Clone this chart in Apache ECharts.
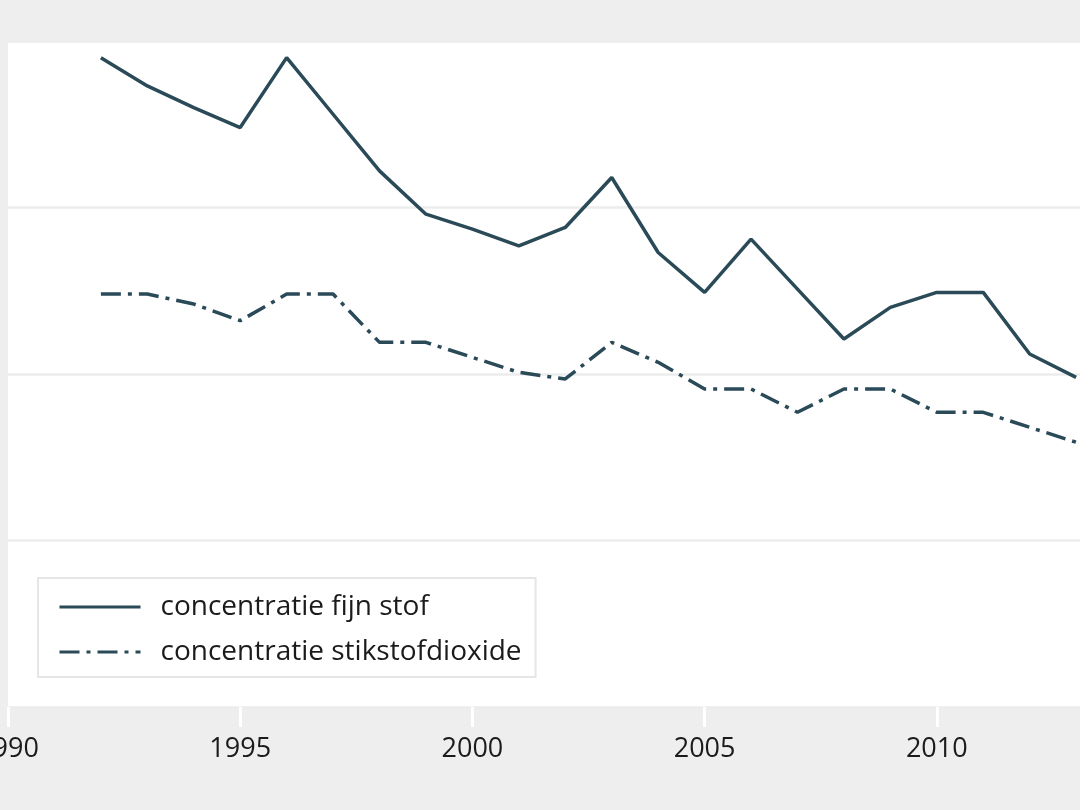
<!DOCTYPE html>
<html>
<head>
<meta charset="utf-8">
<script src="https://cdn.jsdelivr.net/npm/echarts@6/dist/echarts.min.js"></script>
<style>
	html, body { margin: 0; padding: 0; background: #efeeef; }
	#chart { width: 1080px; height: 810px; }
</style>
</head>
<body>
<div id="chart"></div>
<script>
	var years = [1992, 1993, 1994, 1995, 1996, 1997, 1998, 1999, 2000, 2001, 2002,
		2003, 2004, 2005, 2006, 2007, 2008, 2009, 2010, 2011, 2012, 2013];
	var fijnStof = [39.0, 37.3, 36.0, 34.8, 39.0, 35.6, 32.2, 29.6, 28.7, 27.7, 28.8,
		31.8, 27.3, 24.9, 28.1, 25.1, 22.1, 24.0, 24.9, 24.9, 21.2, 19.8];
	var stikstofdioxide = [24.8, 24.8, 24.2, 23.2, 24.8, 24.8, 21.9, 21.9, 21.0, 20.1, 19.7,
		21.9, 20.7, 19.1, 19.1, 17.7, 19.1, 19.1, 17.7, 17.7, 16.8, 15.9];
	var seriesNames = ["concentratie fijn stof", "concentratie stikstofdioxide"];

	var lineColor = "#2a4a58";
	var font = "Open Sans";

	function pairs(values){
		return years.map(function(y, i){ return [y, values[i]]; });
	}

	var chart = echarts.init(document.getElementById("chart"));

	chart.setOption({
		backgroundColor: "#efeeef",
		animation: false,
		grid: {
			left: 8,
			right: -89,
			top: 41,
			bottom: 103,
			outerBoundsMode: "none",
			containLabel: false,
			show: true,
			backgroundColor: "#ffffff",
			borderWidth: 0
		},
		legend: {
			left: 38,
			top: 578,
			orient: "vertical",
			backgroundColor: "#ffffff",
			borderColor: "#e6e6e6",
			borderWidth: 2,
			borderRadius: 0,
			padding: [15, 14, 11, 20],
			itemGap: 17,
			itemWidth: 81,
			itemHeight: 14,
			itemStyle: { opacity: 0 },
			lineStyle: { width: 3 },
			textStyle: {
				fontFamily: font,
				fontSize: 28,
				lineHeight: 28,
				color: "#1b1b1b",
				padding: [0, 0, 0, 15]
			},
			data: seriesNames
		},
		xAxis: {
			type: "value",
			min: 1990,
			max: 2015,
			interval: 5,
			axisLine: { show: false },
			axisTick: {
				show: true,
				length: 20,
				lineStyle: { color: "#ffffff", width: 3 }
			},
			axisLabel: {
				fontFamily: font,
				fontSize: 27,
				color: "#1b1b1b",
				margin: 29,
				formatter: function(v){ return String(v); }
			},
			splitLine: { show: false }
		},
		yAxis: {
			type: "value",
			min: 0,
			max: 40,
			interval: 10,
			axisLine: { show: false },
			axisTick: { show: false },
			axisLabel: { show: false },
			splitLine: {
				show: true,
				lineStyle: { color: "#ececec", width: 2.5 }
			}
		},
		series: [
			{
				name: seriesNames[0],
				type: "line",
				data: pairs(fijnStof),
				symbol: "none",
				lineStyle: { color: lineColor, width: 3.5, type: "solid" },
				itemStyle: { color: lineColor }
			},
			{
				name: seriesNames[1],
				type: "line",
				data: pairs(stikstofdioxide),
				symbol: "none",
				lineStyle: { color: lineColor, width: 3.5, type: [20, 7, 4, 7] },
				itemStyle: { color: lineColor }
			}
		]
	});
</script>
</body>
</html>
